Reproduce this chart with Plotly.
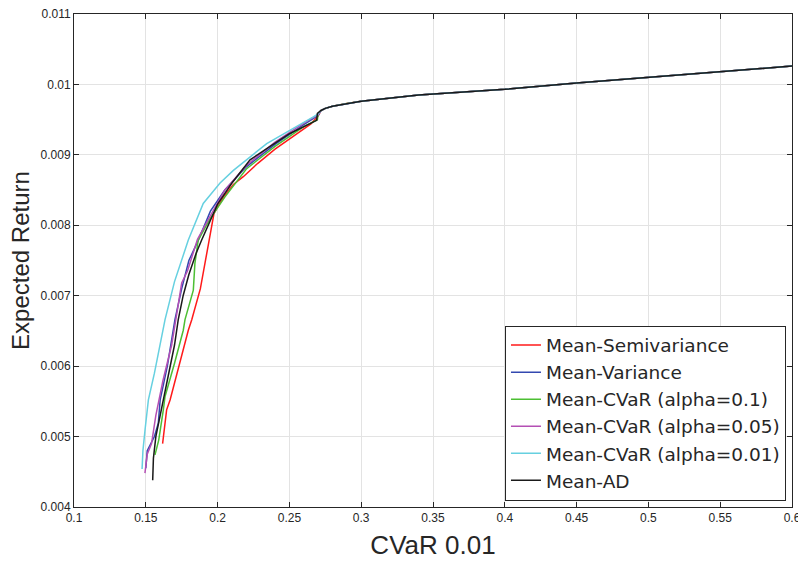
import plotly.graph_objects as go

# Shared upper part of the frontier (all series merge here)
tail_x = [0.272, 0.275, 0.28, 0.29, 0.30, 0.34, 0.40, 0.45, 0.50, 0.55, 0.60]
tail_y = [0.00963, 0.00966, 0.00969, 0.00973, 0.00976, 0.00985, 0.00993, 0.01002, 0.0101, 0.01018, 0.01026]

semivar_x = [0.1617, 0.1645, 0.1669, 0.1730, 0.1796, 0.1820, 0.1880, 0.1935, 0.1960, 0.1975,
             0.2040, 0.2110, 0.2179, 0.2280, 0.2400, 0.2550, 0.2650, 0.2700]
semivar_y = [0.0049, 0.00538, 0.00552, 0.0060, 0.00651, 0.00666, 0.0071, 0.00772, 0.0080, 0.00817,
             0.0084, 0.00858, 0.00869, 0.00888, 0.00908, 0.0093, 0.00944, 0.00955]

variance_x = [0.1500, 0.1510, 0.1560, 0.1587, 0.1600, 0.1650, 0.1703, 0.1750, 0.1800, 0.1866,
              0.1950, 0.2050, 0.2200, 0.2400, 0.2600, 0.2700]
variance_y = [0.00455, 0.0048, 0.0050, 0.00519, 0.00552, 0.0060, 0.00666, 0.0071, 0.0075, 0.00779,
              0.0082, 0.0085, 0.00883, 0.00915, 0.00943, 0.00956]

cvar10_x = [0.1564, 0.1590, 0.1622, 0.1634, 0.1700, 0.1761, 0.1773, 0.1831, 0.1842, 0.1865,
            0.1950, 0.2050, 0.2200, 0.2400, 0.2600, 0.2695, 0.2700]
cvar10_y = [0.00474, 0.00495, 0.00538, 0.00557, 0.00604, 0.00651, 0.00666, 0.00708, 0.00746, 0.00779,
            0.0081, 0.0084, 0.0088, 0.00912, 0.0094, 0.0095, 0.00958]

cvar05_x = [0.1494, 0.1500, 0.1510, 0.1540, 0.1570, 0.1620, 0.1680, 0.1720, 0.1750, 0.1790,
            0.1860, 0.1940, 0.2050, 0.2200, 0.2400, 0.2600, 0.2700]
cvar05_y = [0.00448, 0.0046, 0.00475, 0.0049, 0.0053, 0.0058, 0.0063, 0.0068, 0.00718, 0.00735,
            0.0078, 0.0081, 0.0085, 0.00885, 0.00918, 0.00945, 0.00957]

cvar01_x = [0.1474, 0.1480, 0.1495, 0.1518, 0.1560, 0.1634, 0.1700, 0.1796, 0.1900, 0.2017,
            0.2110, 0.2342, 0.2667, 0.2700]
cvar01_y = [0.00454, 0.0048, 0.0051, 0.00552, 0.0059, 0.00666, 0.0072, 0.00779, 0.00831, 0.0086,
            0.00878, 0.00916, 0.00954, 0.00958]

ad_x = [0.1548, 0.1550, 0.1553, 0.1570, 0.1622, 0.1650, 0.1700, 0.1726, 0.1760, 0.1800,
        0.1850, 0.1889, 0.1947, 0.2000, 0.2100, 0.2226, 0.2350, 0.2500, 0.2690, 0.2695]
ad_y = [0.00438, 0.0046, 0.00469, 0.0050, 0.00552, 0.0058, 0.0063, 0.00666, 0.0070, 0.0073,
        0.0076, 0.00779, 0.00807, 0.0083, 0.0086, 0.00893, 0.0091, 0.0093, 0.00949, 0.00959]

x_ticks = [0.1, 0.15, 0.2, 0.25, 0.3, 0.35, 0.4, 0.45, 0.5, 0.55, 0.6]
y_ticks = [0.004, 0.005, 0.006, 0.007, 0.008, 0.009, 0.01, 0.011]

series = [
    ("Mean-Semivariance", semivar_x, semivar_y, "#ff1a1a"),
    ("Mean-Variance", variance_x, variance_y, "#3348b0"),
    ("Mean-CVaR (alpha=0.1)", cvar10_x, cvar10_y, "#4cbf33"),
    ("Mean-CVaR (alpha=0.05)", cvar05_x, cvar05_y, "#b44fb4"),
    ("Mean-CVaR (alpha=0.01)", cvar01_x, cvar01_y, "#66d0e0"),
    ("Mean-AD", ad_x, ad_y, "#1a1a1a"),
]

FONT = "Liberation Sans, Arial, sans-serif"

fig = go.Figure()
for name, xs, ys, color in series:
    fig.add_trace(
        go.Scatter(
            x=xs + tail_x,
            y=ys + tail_y,
            mode="lines",
            name=name,
            line=dict(color=color, width=1.5),
        )
    )

axis_style = dict(
    automargin=False,
    showline=True,
    linecolor="#262626",
    linewidth=1,
    mirror="allticks",
    ticks="inside",
    ticklen=5,
    tickcolor="#262626",
    showgrid=True,
    gridcolor="#e3e3e3",
    gridwidth=1,
    zeroline=False,
    ticklabeloverflow="allow",
    tickfont=dict(family=FONT, size=12, color="#262626"),
)

fig.update_xaxes(
    range=[0.1, 0.6],
    tickvals=x_ticks,
    ticktext=[str(v) for v in x_ticks],
    title=dict(text="CVaR 0.01", font=dict(family=FONT, size=26, color="#262626"), standoff=11),
    **axis_style,
)
fig.update_yaxes(
    range=[0.004, 0.011],
    tickvals=y_ticks,
    ticktext=[str(v) for v in y_ticks],
    title=dict(text="Expected Return", font=dict(family=FONT, size=24, color="#262626"), standoff=4),
    **axis_style,
)

fig.update_layout(
    width=798,
    height=561,
    margin=dict(l=74, r=6, t=14, b=54),
    paper_bgcolor="white",
    plot_bgcolor="white",
    showlegend=True,
    legend=dict(
        x=0.9916,
        y=0.013,
        xanchor="right",
        yanchor="bottom",
        bgcolor="white",
        bordercolor="#262626",
        borderwidth=1,
        font=dict(family="DejaVu Sans", size=18.5, color="#262626"),
        itemwidth=30,
        tracegroupgap=0,
    ),
)

# drop the default 8px page margin so the figure fills the window exactly, and hide the modebar
fig.write_html(
    "out.html",
    config={"displayModeBar": False},
    post_script="document.body.style.margin = '0px';",
)
